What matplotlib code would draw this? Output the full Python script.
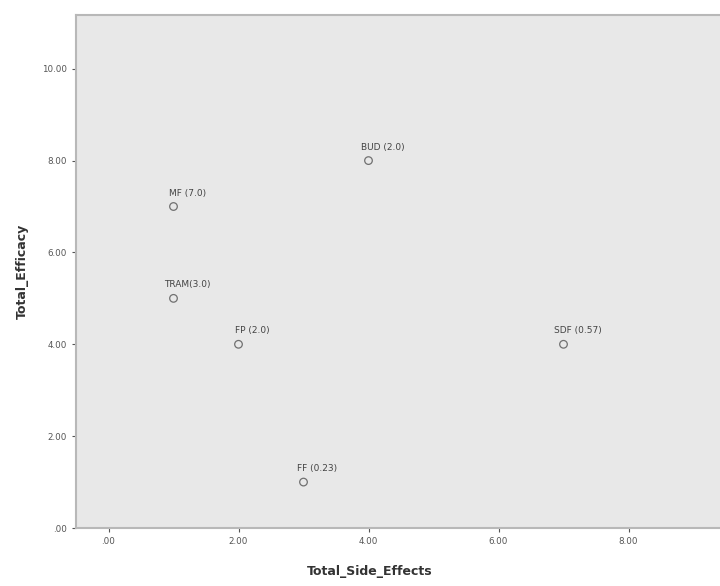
import numpy as np
import matplotlib.pyplot as plt
from matplotlib.ticker import FuncFormatter

# ----------------------------
# Data
# ----------------------------
side_effects = [1, 1, 2, 4, 7, 3]
efficacy = [7, 5, 4, 8, 4, 1]
point_labels = ["MF (7.0)", "TRAM(3.0)", "FP (2.0)", "BUD (2.0)", "SDF (0.57)", "FF (0.23)"]

x_ticks = [0, 2, 4, 6, 8]
y_ticks = [0, 2, 4, 6, 8, 10]


def spss_fmt(v, pos):
    s = f"{v:.2f}"
    if s.startswith("0."):
        s = s[1:]
    return s


# ----------------------------
# Plot
# ----------------------------
fig = plt.figure(figsize=(7.2, 5.86), dpi=100)
# axes run off the right edge like the cropped original
ax = fig.add_axes([76 / 720, 1 - 528 / 586, 650 / 720, 513 / 586])

ax.set_facecolor("#e8e8e8")
for side in ["left", "bottom", "top", "right"]:
    ax.spines[side].set_color("#b8b8b8")
    ax.spines[side].set_linewidth(1.5)

ax.scatter(side_effects, efficacy, s=30, facecolors="none",
           edgecolors="#707070", linewidths=0.9, zorder=3)

for x, y, lab in zip(side_effects, efficacy, point_labels):
    ax.annotate(lab, (x, y), xytext=(14, 9), textcoords="offset pixels",
                ha="center", va="bottom", fontsize=6.5, color="#444444")

ax.set_xlim(-0.5, 9.5)
ax.set_ylim(0, 11.17)
ax.set_xticks(x_ticks)
ax.set_yticks(y_ticks)
ax.xaxis.set_major_formatter(FuncFormatter(spss_fmt))
ax.yaxis.set_major_formatter(FuncFormatter(spss_fmt))
ax.tick_params(axis="both", labelsize=6.3, colors="#555555", length=3,
               width=0.8, direction="out")

ax.set_xlabel("Total_Side_Effects", fontsize=9, fontweight="bold",
              color="#333333")
ax.set_ylabel("Total_Efficacy", fontsize=9, fontweight="bold",
              color="#333333")
ax.xaxis.set_label_coords((370 - 76) / 650, -37 / 513)
ax.yaxis.set_label_coords(-(76 - 29) / 650, 0.5)

fig.savefig("out.png", dpi=100)
